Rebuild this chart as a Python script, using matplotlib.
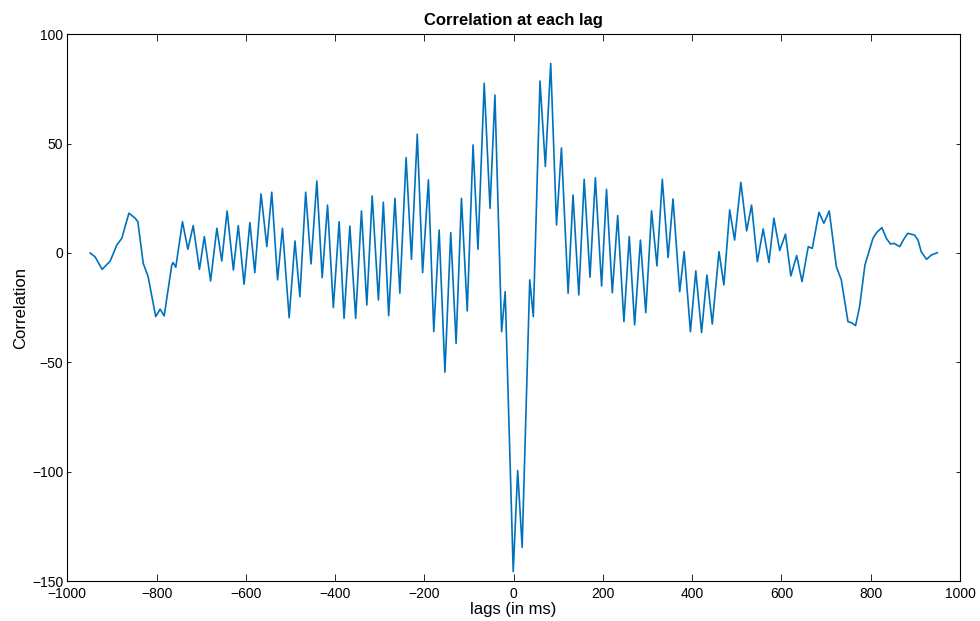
import matplotlib.pyplot as plt

plt.rcParams['font.family'] = ['Liberation Sans', 'DejaVu Sans']

# lags (ms) and correlation values, peak by peak
lags = [-949, -938, -922, -904, -889, -878, -862, -848, -842, -830,
        -819, -802, -792, -783, -766, -763, -757, -742, -730, -718,
        -704, -693, -679, -665, -654, -642, -628, -617, -604, -591,
        -580, -566, -553, -542, -529, -518, -503, -490, -479, -466,
        -454, -441, -429, -417, -404, -391, -380, -367, -354, -341,
        -329, -317, -303, -292, -280, -266, -255, -241, -229, -216,
        -204, -191, -179, -167, -154, -141, -129, -117, -104, -91,
        -80, -66, -53, -42, -27, -19, -1, 9, 19, 36,
        44, 59, 71, 83, 96, 107, 122, 133, 146, 158,
        171, 183, 197, 208, 221, 233, 247, 259, 271, 284,
        296, 309, 321, 333, 346, 357, 372, 382, 396, 408,
        421, 433, 445, 460, 471, 484, 495, 509, 522, 533,
        546, 559, 572, 583, 596, 609, 621, 634, 646, 660,
        669, 684, 695, 707, 723, 734, 749, 757, 766, 775,
        787, 805, 813, 825, 835, 844, 852, 865, 874, 883,
        898, 906, 913, 925, 936, 949]
corr = [0.0, -1.7, -7.5, -3.7, 3.7, 6.7, 18.2, 15.9, 14.3, -4.7,
        -10.8, -29.1, -25.7, -28.8, -5.5, -4.4, -6.5, 14.3, 1.7, 12.5,
        -7.5, 7.5, -12.8, 11.3, -3.7, 19.2, -7.8, 12.5, -14.3, 13.9,
        -9.0, 27.0, 2.9, 27.8, -12.3, 11.3, -29.6, 5.5, -20.0, 27.8,
        -5.0, 32.9, -11.3, 21.9, -25.0, 14.3, -29.9, 12.3, -29.9, 19.2,
        -23.8, 26.1, -21.5, 23.2, -28.7, 25.0, -18.4, 43.6, -2.9, 54.3,
        -9.0, 33.4, -36.0, 10.5, -54.5, 9.3, -41.3, 25.0, -26.5, 49.4,
        1.7, 77.6, 20.4, 72.2, -36.0, -17.7, -145.7, -99.5, -134.6, -12.3,
        -29.1, 78.6, 39.6, 86.7, 12.8, 48.0, -18.4, 26.5, -19.2, 33.7,
        -11.1, 34.4, -15.1, 29.1, -18.2, 17.1, -31.4, 7.5, -32.9, 5.9,
        -27.3, 19.3, -5.9, 33.7, -2.1, 24.7, -17.7, 0.6, -36.0, -8.2,
        -36.4, -10.1, -32.5, 0.6, -14.6, 19.7, 5.9, 32.3, 10.1, 21.9,
        -4.0, 11.0, -4.4, 15.9, 1.1, 8.6, -10.5, -1.2, -13.1, 2.9,
        2.1, 18.6, 13.6, 19.2, -6.3, -12.3, -31.4, -31.9, -33.2, -24.6,
        -5.5, 6.7, 9.3, 11.6, 6.7, 4.1, 4.4, 2.9, 6.3, 9.0,
        8.2, 5.9, 0.6, -2.9, -0.9, 0.1]

fig = plt.figure(figsize=(9.8, 6.21), dpi=100)
ax = fig.add_axes([0.0687, 0.0644, 0.9109, 0.8804])
ax.plot(lags, corr, color='#0072BD', linewidth=1.2, solid_joinstyle='round')

ax.set_xlim(-1000, 1000)
ax.set_ylim(-150, 100)
ax.set_xticks(range(-1000, 1001, 200))
ax.set_yticks(range(-150, 101, 50))
ax.tick_params(direction='in', top=True, right=True, labelsize=10, width=0.6)
ax.tick_params(axis='x', length=5, pad=4)
ax.tick_params(axis='y', length=3, pad=3)
for s in ax.spines.values():
    s.set_linewidth(0.8)

ax.set_title('Correlation at each lag', fontsize=12, fontweight='bold', pad=7)
ax.set_xlabel('lags (in ms)', fontsize=12, labelpad=1)
ax.set_ylabel('Correlation', fontsize=12, labelpad=3)

fig.savefig('out.png', dpi=100)
